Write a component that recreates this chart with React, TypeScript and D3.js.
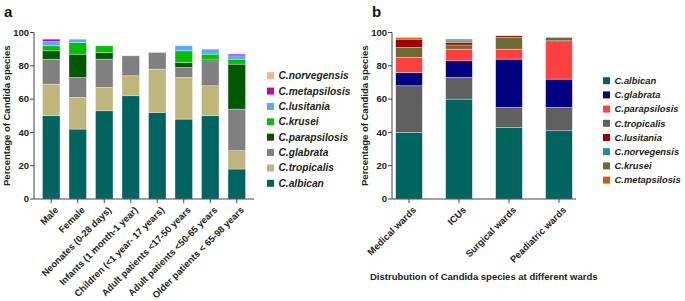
import React from "react";
import * as d3 from "d3";

// ---------- Panel a data ----------
const groupsA = [
  "Male",
  "Female",
  "Neonates (0-28 days)",
  "Infants (1 month-1 year)",
  "Children (<1 year- 17 years)",
  "Adult patients <17-50 years",
  "Adult patients <50-65 years",
  "Older patients < 65-98 years",
];
const speciesA = [
  "C.albican",
  "C.tropicalis",
  "C.glabrata",
  "C.parapsilosis",
  "C.krusei",
  "C.lusitania",
  "C.metapsilosis",
  "C.norvegensis",
];
const albicanA = [50, 42, 53, 62, 52, 48, 50, 18];
const tropicalisA = [19, 19, 14, 12, 26, 25, 18, 11];
const glabrataA = [15, 12, 17, 12, 10, 6, 15, 25];
const parapsilosisA = [5, 14, 4, 0, 0, 3, 1, 27];
const kruseiA = [3, 7, 4, 0, 0, 7, 3, 3];
const lusitaniaA = [2.5, 2, 0, 0, 0, 3, 3, 2];
const metapsilosisA = [1.5, 0, 0, 0, 0, 0, 0, 1];
const norvegensisA = [0, 0, 0, 0, 0, 0, 0, 0];
const colorsA = ["#006461", "#bfb67b", "#808080", "#005800", "#00c000", "#57a8ff", "#c000c0", "#f4b77f"];

// ---------- Panel b data ----------
const groupsB = ["Medical wards", "ICUs", "Surgical wards", "Peadiatric wards"];
const speciesB = [
  "C.albican",
  "C.tropicalis",
  "C.glabrata",
  "C.parapsilosis",
  "C.krusei",
  "C.lusitania",
  "C.metapsilosis",
  "C.norvegensis",
];
const albicanB = [40, 60, 43, 41];
const tropicalisB = [28, 13, 12, 14];
const glabrataB = [8, 10, 29, 17];
const parapsilosisB = [9, 7, 6, 23];
const kruseiB = [6, 2.5, 7, 2];
const lusitaniaB = [5, 1.5, 1, 0];
const metapsilosisB = [1, 1, 0, 0];
const norvegensisB = [0, 1, 0, 0];
const colorsB = ["#006461", "#606060", "#000080", "#ff4040", "#6b6b35", "#a00000", "#d06000", "#1a8fa0"];
const legendOrderB = [
  "C.albican",
  "C.glabrata",
  "C.parapsilosis",
  "C.tropicalis",
  "C.lusitania",
  "C.norvegensis",
  "C.krusei",
  "C.metapsilosis",
];

const yTicks = [0, 20, 40, 60, 80, 100];
const yTitle = "Percentage of Candida species";
const xTitleB = "Distrubution of Candida species at different wards";

const FONT = "'Liberation Sans', Arial, sans-serif";

type PanelProps = {
  groups: string[];
  species: string[];
  series: number[][];
  colors: string[];
  x0: number;
  x1: number;
  padInner: number;
  padOuter: number;
  legendOrder: string[];
  legendX: number;
  legendY: number;
  legendStep: number;
  legendFont: number;
  titleX: number;
  letter: string;
  letterX: number;
};

function Panel(p: PanelProps) {
  const y = d3.scaleLinear().domain([0, 100]).range([199, 32.5]);
  const x = d3
    .scaleBand<string>()
    .domain(p.groups)
    .range([p.x0, p.x1])
    .paddingInner(p.padInner)
    .paddingOuter(p.padOuter);
  const rows = p.groups.map((g, i) => {
    const r: any = { group: g };
    p.species.forEach((s, j) => (r[s] = p.series[j][i]));
    return r;
  });
  const stacked = d3.stack<any>().keys(p.species)(rows);
  const colorOf = (s: string) => p.colors[p.species.indexOf(s)];
  const axisColor = "#444";
  return (
    <g>
      <text x={p.letterX} y={17} fontFamily={FONT} fontWeight="bold" fontSize={15} fill="#111">
        {p.letter}
      </text>
      {/* bars */}
      {stacked.map((layer) => (
        <g key={layer.key}>
          {layer.map((d, i) =>
            d[1] - d[0] > 0 ? (
              <rect
                key={i}
                x={x(p.groups[i])!}
                y={y(d[1])}
                width={x.bandwidth()}
                height={y(d[0]) - y(d[1])}
                fill={colorOf(layer.key as string)}
                stroke="#ffffff"
                strokeOpacity={0.55}
                strokeWidth={0.6}
              />
            ) : null
          )}
        </g>
      ))}
      {/* y axis */}
      <line x1={p.x0} x2={p.x0} y1={y(100)} y2={y(0)} stroke={axisColor} strokeWidth={1} />
      {yTicks.map((t) => (
        <g key={t}>
          <line x1={p.x0 - 4} x2={p.x0} y1={y(t)} y2={y(t)} stroke={axisColor} strokeWidth={1} />
          <text
            x={p.x0 - 5}
            y={y(t)}
            dy="0.35em"
            textAnchor="end"
            fontFamily={FONT}
            fontWeight="bold"
            fontSize={9.5}
            fill="#222"
          >
            {t}
          </text>
        </g>
      ))}
      <text
        transform={`translate(${p.titleX},${(y(0) + y(100)) / 2}) rotate(-90)`}
        textAnchor="middle"
        dy="0.35em"
        fontFamily={FONT}
        fontWeight="bold"
        fontSize={9.5}
        fill="#222"
      >
        {yTitle}
      </text>
      {/* x axis */}
      <line x1={p.x0} x2={p.x1} y1={y(0)} y2={y(0)} stroke={axisColor} strokeWidth={1} />
      {p.groups.map((g) => {
        const cx = x(g)! + x.bandwidth() / 2;
        return (
          <g key={g}>
            <line x1={cx} x2={cx} y1={y(0)} y2={y(0) + 4} stroke={axisColor} strokeWidth={1} />
            <text
              transform={`translate(${cx + 3},${y(0) + 7}) rotate(-45)`}
              textAnchor="end"
              dy="0.7em"
              fontFamily={FONT}
              fontWeight="bold"
              fontSize={9.4}
              fill="#222"
            >
              {g}
            </text>
          </g>
        );
      })}
      {/* legend */}
      {p.legendOrder.map((s, i) => (
        <g key={s} transform={`translate(${p.legendX},${p.legendY + i * p.legendStep})`}>
          <rect x={0} y={-3.5} width={7} height={7} fill={colorOf(s)} />
          <text
            x={11.5}
            dy="0.35em"
            fontFamily={FONT}
            fontWeight="bold"
            fontStyle="italic"
            fontSize={p.legendFont}
            fill="#222"
          >
            {s}
          </text>
        </g>
      ))}
    </g>
  );
}

export default function App() {
  const seriesA = [albicanA, tropicalisA, glabrataA, parapsilosisA, kruseiA, lusitaniaA, metapsilosisA, norvegensisA];
  const seriesB = [albicanB, tropicalisB, glabrataB, parapsilosisB, kruseiB, lusitaniaB, metapsilosisB, norvegensisB];
  const legendA = [...speciesA].reverse();
  return (
    <svg
      width={685}
      height={301}
      style={{ position: "absolute", left: 0, top: 0, background: "#fff" }}
    >
      <Panel
        groups={groupsA}
        species={speciesA}
        series={seriesA}
        colors={colorsA}
        x0={34}
        x1={254}
        padInner={0.34}
        padOuter={0.32}
        legendOrder={legendA}
        legendX={267}
        legendY={75.7}
        legendStep={15.37}
        legendFont={10.2}
        titleX={7}
        letter="a"
        letterX={4}
      />
      <Panel
        groups={groupsB}
        species={speciesB}
        series={seriesB}
        colors={colorsB}
        x0={392}
        x1={576}
        padInner={0.467}
        padOuter={0.074}
        legendOrder={legendOrderB}
        legendX={603}
        legendY={80.7}
        legendStep={14.2}
        legendFont={9.4}
        titleX={365}
        letter="b"
        letterX={372}
      />
      <text x={370} y={280} fontFamily={FONT} fontWeight="bold" fontSize={9.5} fill="#222">
        {xTitleB}
      </text>
    </svg>
  );
}
